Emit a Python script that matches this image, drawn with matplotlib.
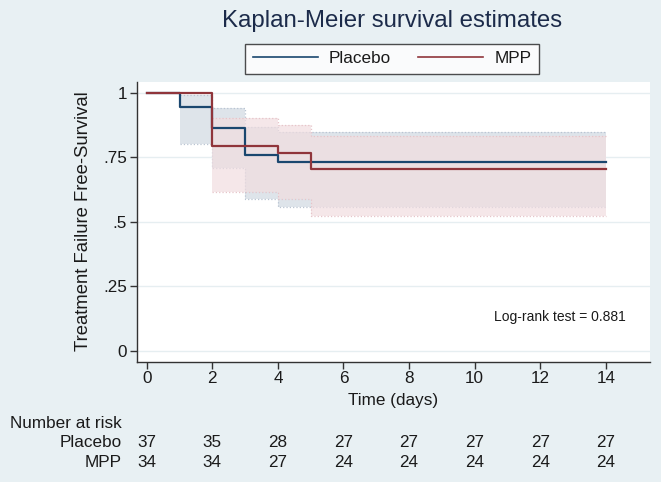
import matplotlib
matplotlib.use("Agg")
import matplotlib.pyplot as plt
from matplotlib.transforms import blended_transform_factory
from matplotlib.lines import Line2D

plt.rcParams['font.family'] = ['Liberation Sans', 'DejaVu Sans']

# ---- data ----
groups = ["Placebo", "MPP"]
placebo_t = [0, 1, 2, 3, 4, 14]
placebo_s = [1.0, 0.946, 0.865, 0.757, 0.730, 0.730]
mpp_t = [0, 2, 4, 5, 14]
mpp_s = [1.0, 0.794, 0.765, 0.706, 0.706]

placebo_ci_t = [1, 2, 3, 4, 14]
placebo_lo = [0.800, 0.707, 0.588, 0.557, 0.557]
placebo_hi = [0.991, 0.942, 0.868, 0.847, 0.847]
mpp_ci_t = [2, 4, 5, 14]
mpp_lo = [0.614, 0.588, 0.524, 0.524]
mpp_hi = [0.901, 0.875, 0.833, 0.833]

risk_times = [0, 2, 4, 6, 8, 10, 12, 14]
risk_placebo = [37, 35, 28, 27, 27, 27, 27, 27]
risk_mpp = [34, 34, 27, 24, 24, 24, 24, 24]

yticks = [0, 0.25, 0.5, 0.75, 1]
ytick_labels = ["0", ".25", ".5", ".75", "1"]
xticks = [0, 2, 4, 6, 8, 10, 12, 14]

title = "Kaplan-Meier survival estimates"
ylabel = "Treatment Failure Free-Survival"
xlabel = "Time (days)"
note = "Log-rank test = 0.881"

# ---- style ----
W, H = 661, 482
bg = '#e8f0f3'
blue = '#1a476f'
red = '#90353b'
txt = '#1a1a1a'
fs = 12.3

fig = plt.figure(figsize=(W / 100, H / 100), dpi=100, facecolor=bg)
ax = fig.add_axes([136.7 / W, 1 - 361.7 / H, (650 - 136.7) / W, (361.7 - 81.7) / H])
ax.set_facecolor('white')

ax.set_xlim(-0.305, 15.345)
ax.set_ylim(-0.0414, 1.0426)

for y in yticks:
    ax.axhline(y, color='#e6eef1', lw=1.0, zorder=0)

# CI bands
ax.fill_between(placebo_ci_t, placebo_lo, placebo_hi, step='post',
                color='#dee4ea', lw=0, zorder=1)
ax.step(placebo_ci_t, placebo_lo, where='post', color='#b9c4d2', lw=0.9, ls=':', zorder=1)
ax.step(placebo_ci_t, placebo_hi, where='post', color='#b9c4d2', lw=0.9, ls=':', zorder=1)
ax.fill_between(mpp_ci_t, mpp_lo, mpp_hi, step='post',
                color='#f1dde0', alpha=0.7, lw=0, zorder=2)
ax.step(mpp_ci_t, mpp_lo, where='post', color='#e6c4c9', lw=0.9, ls=':', zorder=2)
ax.step(mpp_ci_t, mpp_hi, where='post', color='#e6c4c9', lw=0.9, ls=':', zorder=2)

# survival curves
ax.step(placebo_t, placebo_s, where='post', color=blue, lw=1.6, zorder=3)
ax.step(mpp_t, mpp_s, where='post', color=red, lw=1.6, zorder=4)

# axes styling
for s in ['top', 'right']:
    ax.spines[s].set_visible(False)
for s in ['left', 'bottom']:
    ax.spines[s].set_color('#333333')
    ax.spines[s].set_linewidth(1.0)
ax.set_yticks(yticks)
ax.set_yticklabels(ytick_labels)
ax.set_xticks(xticks)
ax.tick_params(axis='both', direction='out', length=5, width=1.0,
               color='#333333', labelsize=fs, labelcolor=txt)
ax.tick_params(axis='y', pad=2)
ax.tick_params(axis='x', pad=2)

ax.text((560 - 146.7) / 32.81, (351 - 316.7) / 258.3, note, fontsize=10,
        color=txt, ha='center', va='center')

# titles / labels
fig.text(392 / W, 1 - 21 / H, title, fontsize=17.3, color='#1c2b4a',
         ha='center', va='center')
fig.text(84 / W, 1 - 221 / H, ylabel, fontsize=13.3, color=txt,
         rotation=90, ha='center', va='center')
fig.text(393 / W, 1 - 400.7 / H, xlabel, fontsize=fs, color=txt,
         ha='center', va='center')

# legend
handles = [Line2D([], [], color=blue, lw=1.2), Line2D([], [], color=red, lw=1.2)]
leg = fig.legend(handles, groups, loc='center', bbox_to_anchor=(392 / W, 1 - 58.7 / H),
                 ncol=2, fontsize=fs, frameon=True, fancybox=False,
                 handlelength=3.8, handletextpad=0.65, columnspacing=1.6,
                 borderpad=0.45, borderaxespad=0)
leg.get_frame().set_edgecolor('#222222')
leg.get_frame().set_linewidth(1.0)
leg.get_frame().set_facecolor('white')
for t in leg.get_texts():
    t.set_color(txt)

# number at risk table
trans = blended_transform_factory(ax.transData, fig.transFigure)
fig.text(10.5 / W, 1 - 423 / H, "Number at risk", fontsize=fs, color=txt,
         ha='left', va='center')
fig.text(122 / W, 1 - 442.7 / H, groups[0], fontsize=fs, color=txt,
         ha='right', va='center')
fig.text(122 / W, 1 - 462.7 / H, groups[1], fontsize=fs, color=txt,
         ha='right', va='center')
for t, a, b in zip(risk_times, risk_placebo, risk_mpp):
    ax.text(t, 1 - 442.7 / H, str(a), transform=trans, fontsize=fs, color=txt,
            ha='center', va='center', clip_on=False)
    ax.text(t, 1 - 462.7 / H, str(b), transform=trans, fontsize=fs, color=txt,
            ha='center', va='center', clip_on=False)

fig.savefig('out.png', dpi=100, facecolor=bg)
